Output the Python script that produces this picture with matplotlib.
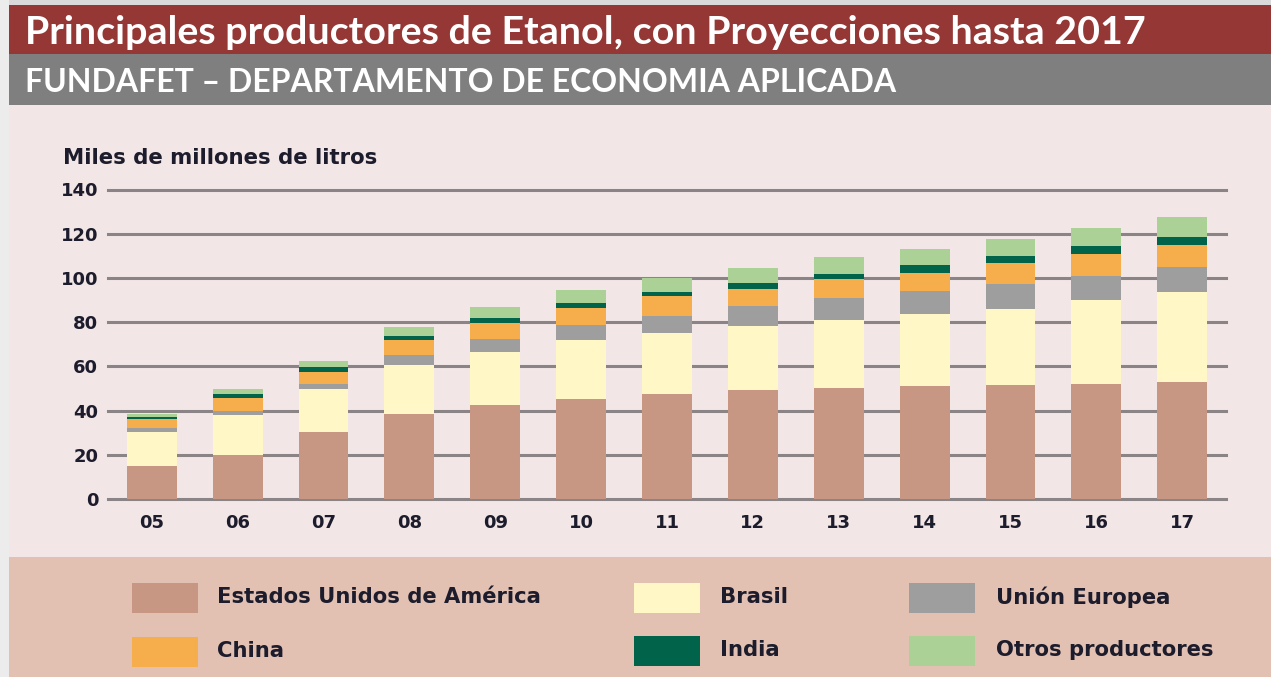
import matplotlib
matplotlib.use("Agg")
import matplotlib.pyplot as plt
from matplotlib.patches import Rectangle
import numpy as np

# data (miles de millones de litros)
years = ["05", "06", "07", "08", "09", "10", "11", "12", "13", "14", "15", "16", "17"]
eeuu = [15.1, 19.9, 30.5, 38.5, 42.3, 45.3, 47.7, 49.1, 50.4, 50.9, 51.7, 52.1, 53.0]
brasil = [15.4, 18.2, 19.2, 22.2, 24.4, 26.4, 27.2, 29.0, 30.7, 32.6, 34.4, 37.7, 40.5]
union_europea = [1.5, 1.5, 2.4, 4.5, 5.7, 7.0, 8.0, 9.0, 9.8, 10.4, 11.0, 10.9, 11.6]
china = [4.1, 6.3, 5.4, 6.5, 7.2, 7.7, 8.8, 8.0, 8.8, 8.4, 9.7, 9.9, 9.9]
india = [1.2, 1.5, 2.0, 2.2, 2.3, 2.3, 1.8, 2.6, 2.2, 3.4, 3.0, 3.7, 3.6]
otros = [1.1, 2.3, 2.7, 3.7, 5.0, 6.0, 6.5, 7.0, 7.6, 7.6, 7.6, 8.2, 8.9]

series_names = ["Estados Unidos de América", "Brasil", "Unión Europea", "China", "India", "Otros productores"]
series_colors = ["#c89783", "#fff8c6", "#9e9e9e", "#f5ae4b", "#00634a", "#acd197"]

title = "Principales productores de Etanol, con Proyecciones hasta 2017"
subtitle = "FUNDAFET – DEPARTAMENTO DE ECONOMIA APLICADA"
ylabel = "Miles de millones de litros"

W, H = 1271, 677
TXT = "#1c1c2c"
BODY_FONT = "DejaVu Sans"

fig = plt.figure(figsize=(W / 100, H / 100), dpi=100)
fig.patch.set_facecolor("#d9d9d9")


def px_rect(x0, y0, x1, y1, color, z=0):
    # rectangle in pixel coords, origin top-left
    fig.patches.append(Rectangle((x0 / W, 1 - y1 / H), (x1 - x0) / W, (y1 - y0) / H,
                                 transform=fig.transFigure, facecolor=color,
                                 edgecolor="none", zorder=z))


def px_text(x, y, s, **kw):
    fig.text(x / W, 1 - y / H, s, **kw)


# background panels
px_rect(0, 0, 9, H, "#ececec")
px_rect(9, 105, W, 557, "#f2e6e6")
px_rect(9, 557, W, H, "#e2c1b2")
px_rect(9, 5, W, 54, "#953735")
px_rect(9, 54, W, 105, "#7f7f7f")

px_text(25, 32, title, color="white", fontsize=28.4, fontweight="bold",
        family="Lato", va="center", ha="left", zorder=3)
px_text(25, 82, subtitle, color="white", fontsize=23, fontweight="bold",
        family="Lato", va="center", ha="left", zorder=3)

# chart
ax = fig.add_axes([108 / W, (H - 499) / H, (1226 - 108) / W, (499 - 189.5) / H])
ax.set_zorder(5)
ax.set_facecolor("none")
x = np.arange(len(years))
bottom = np.zeros(len(years))
for vals, name, col in zip([eeuu, brasil, union_europea, china, india, otros], series_names, series_colors):
    ax.bar(x, vals, width=0.58, bottom=bottom, color=col, label=name, zorder=3)
    bottom += np.array(vals)

ax.set_xlim(-0.51, len(years) - 0.49)
ax.set_ylim(0, 140)
ax.set_yticks(range(0, 141, 20))
ax.set_xticks(x)
ax.set_xticklabels(years)
ax.yaxis.grid(True, color="#8a8486", linewidth=2.2)
ax.set_axisbelow(True)
for gl in ax.get_ygridlines():
    gl.set_clip_on(False)
for s in ax.spines.values():
    s.set_visible(False)
ax.tick_params(axis="both", length=0, labelsize=13, labelcolor=TXT)
ax.tick_params(axis="y", pad=7)
ax.tick_params(axis="x", pad=11)
for lab in ax.get_xticklabels() + ax.get_yticklabels():
    lab.set_fontweight("bold")
    lab.set_family(BODY_FONT)

px_text(63, 158, ylabel, color=TXT, fontsize=15.3, fontweight="bold",
        family=BODY_FONT, va="center", ha="left", zorder=3)

# legend drawn by hand to keep the 3x2 grid positions
legend_pos = [(132, 583), (634, 583), (909, 583), (132, 637), (634, 636), (909, 636)]
text_x = [217, 720, 996, 217, 720, 996]
for (lx, ly), tx, name, col in zip(legend_pos, text_x, series_names, series_colors):
    px_rect(lx, ly, lx + 66, ly + 30, col, z=2)
    px_text(tx, ly + 14, name, color=TXT, fontsize=15.2, fontweight="bold",
            family=BODY_FONT, va="center", ha="left", zorder=3)

fig.savefig("out.png", dpi=100, facecolor=fig.get_facecolor())
